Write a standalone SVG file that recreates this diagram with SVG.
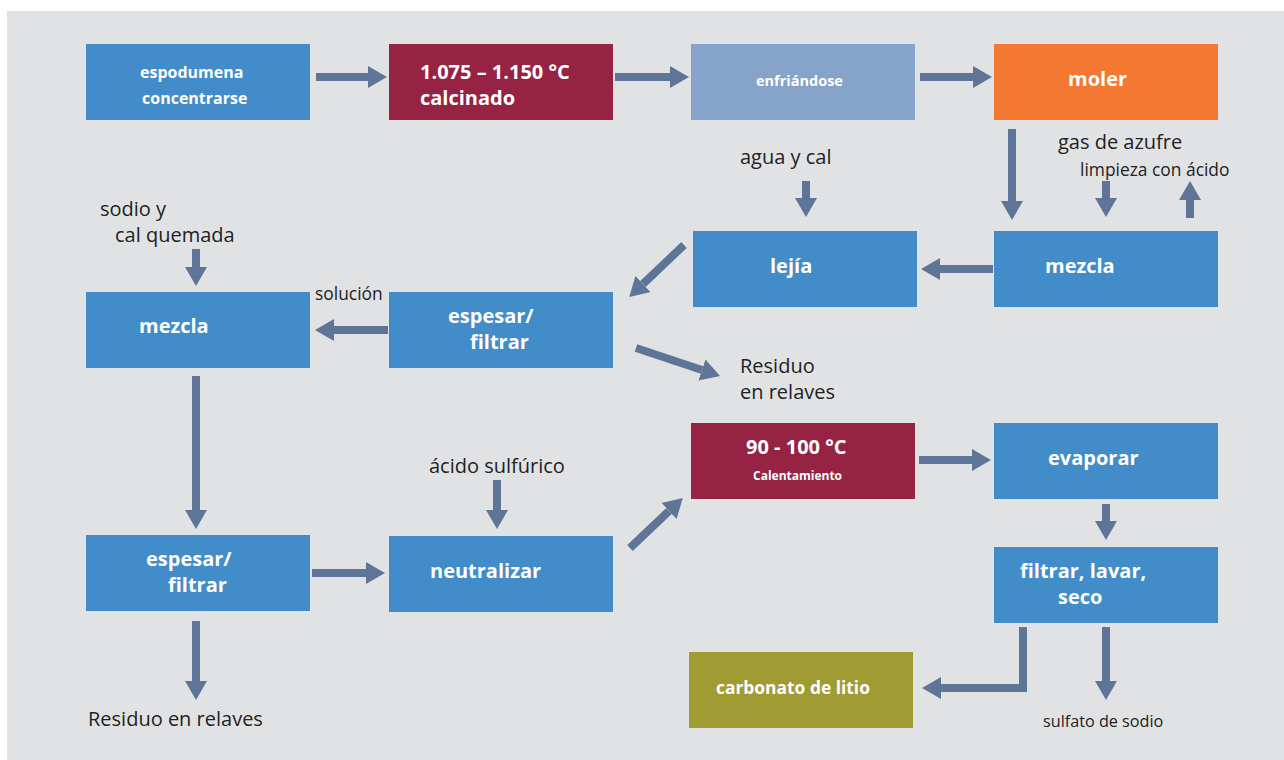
<svg xmlns="http://www.w3.org/2000/svg" width="1284" height="760" viewBox="0 0 1284 760">
<style>
.box{stroke:none}
.blue{fill:#428CCA}
.red{fill:#962343}
.lb{fill:#86A3C9}
.or{fill:#F37832}
.ol{fill:#A09B32}
.bt{font-family:"Open Sans","Noto Sans",sans-serif;font-weight:700;fill:#ffffff;font-size:20px}
.lab{font-family:"Open Sans","Noto Sans",sans-serif;fill:#222222;font-size:20px}
.arr{stroke:#5E7598;stroke-width:8;fill:none;marker-end:url(#ah)}
</style>
<defs>
<marker id="ah" markerUnits="userSpaceOnUse" markerWidth="20" markerHeight="24" refX="0" refY="11" orient="auto" viewBox="0 0 20 22">
<path d="M0,0 L19,11 L0,22 z" fill="#5E7598"/>
</marker>
</defs>
<rect x="0" y="0" width="1284" height="760" fill="#ffffff"/>
<rect x="7" y="11" width="1277" height="749" fill="#E1E2E4"/>

<g id="n1"><rect class="box blue" x="86" y="44" width="224" height="76"/>
<text class="bt" x="140" y="78" style="font-size:16px">espodumena</text>
<text class="bt" x="142" y="104" style="font-size:16px">concentrarse</text></g>
<g id="n2"><rect class="box red" x="389" y="44" width="224" height="76"/>
<text class="bt" x="420" y="79">1.075 – 1.150 °C</text>
<text class="bt" x="420" y="105">calcinado</text></g>
<g id="n3"><rect class="box lb" x="691" y="44" width="224" height="76"/>
<text class="bt" x="756" y="86" style="font-size:14.5px">enfriándose</text></g>
<g id="n4"><rect class="box or" x="994" y="44" width="224" height="76"/>
<text class="bt" x="1068" y="86">moler</text></g>

<g id="n5"><rect class="box blue" x="693" y="231" width="224" height="76"/>
<text class="bt" x="770" y="273">lejía</text></g>
<g id="n6"><rect class="box blue" x="994" y="231" width="224" height="76"/>
<text class="bt" x="1045" y="273">mezcla</text></g>

<g id="n7"><rect class="box blue" x="86" y="292" width="224" height="76"/>
<text class="bt" x="139" y="333">mezcla</text></g>
<g id="n8"><rect class="box blue" x="389" y="292" width="224" height="76"/>
<text class="bt" x="448" y="323">espesar/</text>
<text class="bt" x="470" y="349">filtrar</text></g>

<g id="n9"><rect class="box red" x="691" y="423" width="224" height="76"/>
<text class="bt" x="746" y="454">90 - 100 °C</text>
<text class="bt" x="753" y="480" style="font-size:12px">Calentamiento</text></g>
<g id="n10"><rect class="box blue" x="994" y="423" width="224" height="76"/>
<text class="bt" x="1048" y="465">evaporar</text></g>

<g id="n11"><rect class="box blue" x="86" y="535" width="224" height="76"/>
<text class="bt" x="146" y="566">espesar/</text>
<text class="bt" x="168" y="592">filtrar</text></g>
<g id="n12"><rect class="box blue" x="389" y="536" width="224" height="76"/>
<text class="bt" x="430" y="578">neutralizar</text></g>
<g id="n13"><rect class="box blue" x="994" y="547" width="224" height="76"/>
<text class="bt" x="1020" y="578">filtrar, lavar,</text>
<text class="bt" x="1058" y="604">seco</text></g>
<g id="n14"><rect class="box ol" x="689" y="652" width="224" height="76"/>
<text class="bt" x="716" y="694" style="font-size:17.4px">carbonato de litio</text></g>

<g id="labels">
<text class="lab" x="740" y="164">agua y cal</text>
<text class="lab" x="1058" y="149">gas de azufre</text>
<text class="lab" x="1080" y="176" style="font-size:17.4px">limpieza con ácido</text>
<text class="lab" x="100" y="216">sodio y</text>
<text class="lab" x="115" y="242">cal quemada</text>
<text class="lab" x="315" y="300" style="font-size:17.4px">solución</text>
<text class="lab" x="740" y="373">Residuo</text>
<text class="lab" x="740" y="399">en relaves</text>
<text class="lab" x="429" y="473">ácido sulfúrico</text>
<text class="lab" x="88" y="726">Residuo en relaves</text>
<text class="lab" x="1043" y="727" style="font-size:16.2px">sulfato de sodio</text>
</g>

<g id="connectors">
<line class="arr" x1="316" y1="77" x2="368" y2="77"/>
<line class="arr" x1="615" y1="77" x2="670" y2="77"/>
<line class="arr" x1="920" y1="77" x2="973" y2="77"/>
<line class="arr" x1="1012" y1="129" x2="1012" y2="201"/>
<line class="arr" x1="1106" y1="181" x2="1106" y2="198"/>
<line class="arr" x1="1190" y1="218" x2="1190" y2="200"/>
<line class="arr" x1="806" y1="181" x2="806" y2="198"/>
<line class="arr" x1="993" y1="269" x2="940" y2="269"/>
<line class="arr" x1="684" y1="245" x2="643" y2="284"/>
<line class="arr" x1="388" y1="330" x2="334" y2="330"/>
<line class="arr" x1="196" y1="249" x2="196" y2="267"/>
<line class="arr" x1="636" y1="348" x2="702" y2="370"/>
<line class="arr" x1="196" y1="376" x2="196" y2="510"/>
<line class="arr" x1="497" y1="480" x2="497" y2="510"/>
<line class="arr" x1="312" y1="573" x2="366" y2="573"/>
<line class="arr" x1="196" y1="621" x2="196" y2="681"/>
<line class="arr" x1="630" y1="548" x2="669" y2="511"/>
<line class="arr" x1="919" y1="460" x2="972" y2="460"/>
<line class="arr" x1="1106" y1="504" x2="1106" y2="521"/>
<polyline class="arr" points="1023,627 1023,688 941,688"/>
<line class="arr" x1="1106" y1="627" x2="1106" y2="681"/>
</g>
</svg>
